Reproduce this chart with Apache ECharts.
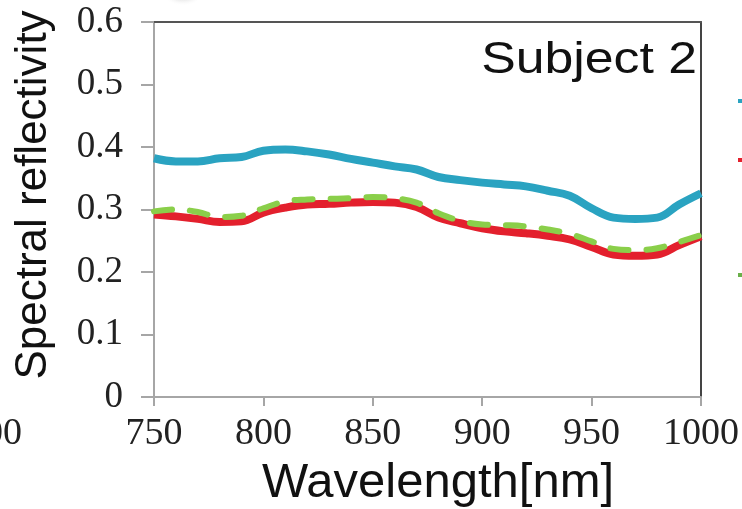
<!DOCTYPE html>
<html><head><meta charset="utf-8">
<script src="https://cdn.jsdelivr.net/npm/echarts@6/dist/echarts.min.js"></script>
<style>html,body{margin:0;padding:0;background:#fff}#c{width:742px;height:509px}</style>
</head><body><div id="c"></div>
<script>
const wavelengths = [750,760,770,780,790,800,810,820,830,840,850,860,870,880,890,900,910,920,930,940,950,960,970,980,990,1000];
const blueSeries  = [0.382,0.377,0.377,0.382,0.384,0.394,0.396,0.393,0.388,0.381,0.375,0.369,0.364,0.352,0.347,0.343,0.340,0.337,0.330,0.322,0.302,0.287,0.285,0.287,0.308,0.326];
const redSeries   = [0.292,0.289,0.285,0.280,0.281,0.295,0.303,0.308,0.309,0.311,0.312,0.311,0.304,0.287,0.278,0.270,0.265,0.262,0.258,0.252,0.240,0.228,0.226,0.228,0.243,0.257];
const greenSeries = [0.297,0.300,0.296,0.288,0.290,0.302,0.313,0.316,0.317,0.318,0.320,0.318,0.311,0.294,0.282,0.276,0.275,0.273,0.268,0.261,0.249,0.237,0.235,0.238,0.248,0.259];
const xTicks = [750,800,850,900,950,1000];
const yTicks = [0,0.1,0.2,0.3,0.4,0.5,0.6];
const yTitle = 'Spectral reflectivity';
const xTitle = 'Wavelength[nm]';
const panelLabel = 'Subject 2';

const pair = arr => wavelengths.map((w,i)=>[w,arr[i]]);
const chart = echarts.init(document.getElementById('c'), null, {renderer:'canvas'});
const serif = 'Liberation Serif';
const sans = 'Liberation Sans';
chart.setOption({
  animation:false,
  backgroundColor:'#fff',
  grid:{left:154,right:41,top:22,bottom:112,containLabel:false},
  xAxis:[{
    type:'value',min:xTicks[0],max:xTicks[xTicks.length-1],interval:50,
    axisLine:{show:true,lineStyle:{color:'#a6a6a6',width:2}},
    axisTick:{show:true,length:9,lineStyle:{color:'#a6a6a6',width:2}},
    axisLabel:{fontFamily:serif,fontSize:38,color:'#222',margin:18,formatter:v=>String(v)},
    splitLine:{show:false}
  },{
    type:'value',position:'top',min:750,max:1000,
    axisLine:{show:true,onZero:false,lineStyle:{color:'#555',width:2}},
    axisTick:{show:false},axisLabel:{show:false},splitLine:{show:false}
  }],
  yAxis:[{
    type:'value',min:yTicks[0],max:yTicks[yTicks.length-1],interval:0.1,
    axisLine:{show:true,lineStyle:{color:'#a6a6a6',width:2}},
    axisTick:{show:true,inside:false,length:13,lineStyle:{color:'#a6a6a6',width:2}},
    axisLabel:{fontFamily:serif,fontSize:37,color:'#222',margin:31,
      formatter:v=>String(Math.round(v*10)/10)},
    splitLine:{show:false}
  },{
    type:'value',position:'right',min:0,max:0.6,
    axisLine:{show:true,onZero:false,lineStyle:{color:'#444',width:2}},
    axisTick:{show:false},axisLabel:{show:false},splitLine:{show:false}
  }],
  series:[
    {type:'line',data:pair(blueSeries),smooth:0.4,showSymbol:false,
      lineStyle:{color:'#2aa3c1',width:8}},
    {type:'line',data:pair(redSeries),smooth:0.4,showSymbol:false,
      lineStyle:{color:'#e3202d',width:8}},
    {type:'line',data:pair(greenSeries),smooth:0.4,showSymbol:false,
      lineStyle:{color:'#8acf4a',width:6,type:[18,18],cap:'round'}}
  ],
  graphic:[
    {type:'text',x:697,y:61,scaleX:1.15,style:{text:panelLabel,x:0,y:0,align:'right',verticalAlign:'middle',fontFamily:sans,fontSize:45,fill:'#111'}},
    {type:'text',x:438,y:483,style:{text:xTitle,x:0,y:0,align:'center',verticalAlign:'middle',fontFamily:sans,fontSize:49,fill:'#111'}},
    {type:'text',x:34,y:195,rotation:Math.PI/2,style:{text:yTitle,x:0,y:0,align:'center',verticalAlign:'middle',fontFamily:sans,fontSize:44,fill:'#111'}},
    {type:'text',x:22,y:434,style:{text:'700',x:0,y:0,align:'right',verticalAlign:'middle',fontFamily:serif,fontSize:38,fill:'#222'}},
    {type:'circle',shape:{cx:183,cy:-22,r:28},style:{fill:{type:'radial',x:0.5,y:0.5,r:0.5,colorStops:[{offset:0.6,color:'#bdbdbd'},{offset:1,color:'rgba(255,255,255,0)'}]}}},
    {type:'rect',shape:{x:738,y:99,width:4,height:4},style:{fill:'#2aa3c1'}},
    {type:'rect',shape:{x:738,y:158,width:4,height:4},style:{fill:'#e3202d'}},
    {type:'rect',shape:{x:738,y:273,width:4,height:4},style:{fill:'#6ab04a'}}
  ]
});
</script></body></html>
